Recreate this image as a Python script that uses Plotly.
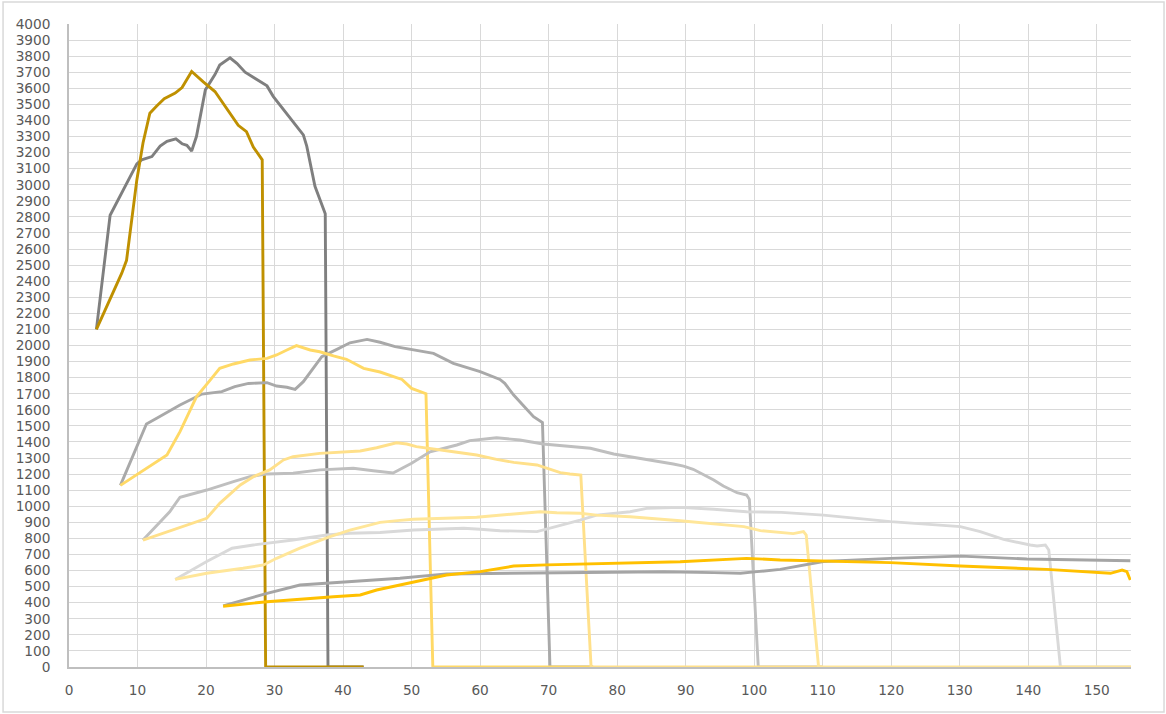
import plotly.graph_objects as go

# ---- data ----
a_x = [4, 6, 9.9, 10.6, 12.1, 13.3, 14.3, 15.6, 16.5, 17.2, 17.9, 18.6, 19.9, 21.3, 22.0, 23.5, 24.5, 25.7, 28.9, 29.8, 34.2, 34.7, 35.9, 37.4, 37.8, 43]
a_y = [2100, 2810, 3130, 3155, 3175, 3240, 3270, 3285, 3255, 3245, 3210, 3300, 3590, 3685, 3745, 3790, 3755, 3700, 3615, 3550, 3310, 3240, 2990, 2820, 0, 0]

b_x = [4, 7.7, 8.4, 9.9, 10.8, 11.8, 12.8, 13.9, 15.5, 16.5, 17.9, 19.0, 19.6, 21.3, 23.5, 24.7, 25.9, 26.9, 28.2, 28.7, 43]
b_y = [2100, 2450, 2530, 3030, 3260, 3445, 3490, 3535, 3570, 3605, 3705, 3660, 3640, 3580, 3445, 3370, 3330, 3235, 3155, 0, 0]

c_x = [7.5, 11.3, 12.8, 16.2, 19.4, 22.3, 24.2, 26.2, 28.9, 30.3, 31.8, 33.0, 34.2, 36.9, 39.1, 41.0, 43.5, 45.4, 47.6, 53.2, 56.1, 60.0, 62.9, 63.6, 64.9, 66.6, 67.8, 69.1, 70.2, 76.5]
c_y = [1130, 1512, 1547, 1630, 1698, 1713, 1744, 1764, 1769, 1748, 1740, 1727, 1775, 1930, 1976, 2017, 2038, 2020, 1993, 1951, 1889, 1837, 1789, 1765, 1692, 1609, 1557, 1520, 0, 0]

d_x = [7.5, 14.3, 16.2, 18.6, 20.6, 22.0, 24.0, 26.4, 28.9, 30.3, 31.8, 33.2, 35.2, 36.6, 38.6, 40.5, 43.0, 45.4, 47.8, 48.6, 50.0, 52.1, 53.1, 76.5]
d_y = [1130, 1319, 1464, 1681, 1785, 1858, 1885, 1910, 1920, 1941, 1972, 1999, 1972, 1961, 1935, 1914, 1858, 1835, 1800, 1789, 1733, 1700, 0, 0]

e_x = [10.8, 14.7, 16.2, 20.1, 24.0, 26.4, 28.9, 32.7, 36.6, 41.5, 44.4, 47.3, 50.0, 52.7, 56.6, 58.5, 62.4, 65.8, 69.2, 76.1, 79.5, 84.3, 88.2, 89.7, 91.1, 94.1, 95.5, 97.5, 98.9, 99.3, 100.6, 110]
e_y = [790, 966, 1056, 1101, 1153, 1184, 1201, 1205, 1226, 1236, 1221, 1207, 1267, 1339, 1381, 1408, 1426, 1412, 1387, 1361, 1325, 1292, 1263, 1250, 1230, 1163, 1126, 1084, 1070, 1043, 0, 0]

f_x = [10.8, 20.1, 22.0, 25.0, 26.9, 29.3, 31.3, 32.7, 36.6, 42.5, 44.9, 47.8, 49.3, 50.7, 56.1, 59.5, 62.4, 64.9, 68.3, 69.7, 71.7, 73.1, 74.7, 76.2, 110]
f_y = [790, 925, 1018, 1132, 1184, 1226, 1288, 1308, 1329, 1344, 1364, 1395, 1387, 1371, 1339, 1319, 1292, 1273, 1257, 1236, 1209, 1201, 1194, 0, 0]

g_x = [15.5, 20.1, 23.8, 26.9, 32.7, 37.6, 41.0, 45.4, 50.3, 57.6, 60.0, 62.9, 68.3, 71.2, 74.6, 77.0, 81.9, 84.3, 89.2, 94.1, 98.9, 104.0, 110.1, 119.9, 130.1, 133.0, 136.4, 140.3, 141.3, 142.5, 143.0, 144.7, 155]
g_y = [545, 656, 739, 759, 790, 821, 832, 837, 852, 863, 857, 848, 842, 873, 914, 945, 966, 987, 993, 981, 966, 962, 945, 904, 873, 842, 794, 759, 753, 759, 728, 0, 0]

h_x = [15.5, 20.1, 25.4, 28.4, 30.3, 33.7, 38.1, 41.0, 43.0, 45.4, 48.3, 50.3, 59.5, 64.9, 68.8, 71.2, 74.6, 77.0, 81.9, 89.2, 94.1, 98.5, 100.9, 103.8, 105.7, 107.2, 107.6, 109.4, 155]
h_y = [545, 583, 614, 635, 676, 739, 811, 852, 873, 900, 912, 919, 932, 950, 966, 960, 956, 945, 935, 910, 890, 873, 848, 835, 830, 842, 821, 0, 0]

i_x = [22.5, 28.9, 33.7, 37.1, 43.5, 48.3, 55.1, 69.7, 79.5, 86.8, 94.1, 98.0, 100.4, 103.8, 110.1, 119.9, 130.1, 139.8, 154.9]
i_y = [380, 458, 510, 520, 541, 552, 579, 587, 593, 593, 587, 583, 593, 607, 656, 676, 690, 672, 661]

j_x = [22.5, 28.9, 38.6, 42.5, 44.9, 48.3, 50.3, 55.1, 60.0, 64.9, 69.7, 79.5, 89.2, 98.9, 103.8, 119.9, 130.1, 142.7, 149.5, 152.0, 153.7, 154.4, 154.9]
j_y = [378, 406, 437, 448, 479, 510, 524, 572, 593, 628, 635, 645, 655, 676, 666, 649, 628, 607, 587, 583, 603, 593, 541]

series = [
    (a_x, a_y, "#7F7F7F"),
    (b_x, b_y, "#BF9000"),
    (c_x, c_y, "#A9A9A9"),
    (d_x, d_y, "#FFD966"),
    (e_x, e_y, "#BFBFBF"),
    (f_x, f_y, "#FFE08A"),
    (g_x, g_y, "#D9D9D9"),
    (h_x, h_y, "#FFE699"),
    (i_x, i_y, "#A5A5A5"),
    (j_x, j_y, "#FFC000"),
]

fig = go.Figure()
for xs, ys, col in series:
    fig.add_trace(go.Scatter(x=xs, y=ys, mode="lines",
                             line=dict(color=col, width=2.9),
                             showlegend=False, hoverinfo="skip"))

axis_font = dict(family="DejaVu Sans, sans-serif", size=13.7, color="#595959")

fig.update_xaxes(range=[0, 155], dtick=10, tick0=0,
                 showgrid=True, gridcolor="#D9D9D9", gridwidth=1.3,
                 showline=True, linecolor="#BFBFBF", linewidth=1.5,
                 zeroline=False, tickfont=axis_font, ticks="",
                 ticklabelstandoff=10)
fig.update_yaxes(range=[0, 4000], dtick=100, tick0=0,
                 showgrid=True, gridcolor="#D9D9D9", gridwidth=1.3,
                 showline=True, linecolor="#BFBFBF", linewidth=1.5,
                 zeroline=False, tickfont=axis_font, ticks="",
                 ticklabelstandoff=14)

fig.add_shape(type="rect", xref="paper", yref="paper",
              x0=-0.0621, x1=1.0311, y0=-0.070, y1=1.0342,
              line=dict(color="#D9D9D9", width=1.5), layer="below")

fig.update_layout(width=1166, height=714,
                  margin=dict(l=69, r=35, t=24, b=47),
                  paper_bgcolor="white", plot_bgcolor="white",
                  showlegend=False)

fig.write_html("out.html", config={"displayModeBar": False},
               post_script="document.body.style.margin='0';document.body.style.overflow='hidden';")
